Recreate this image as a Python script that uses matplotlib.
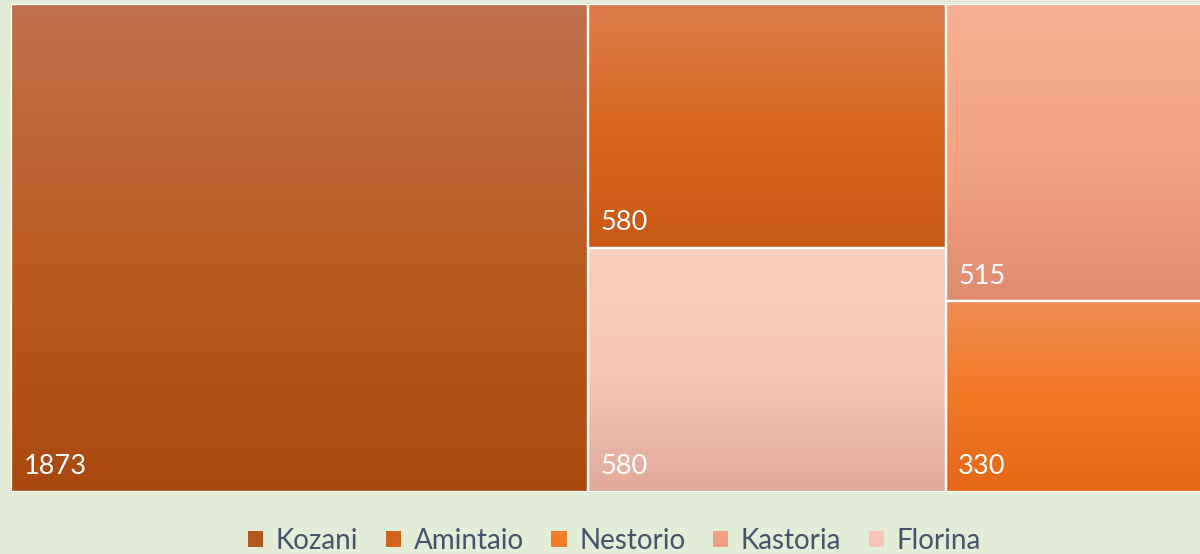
import numpy as np
import matplotlib
matplotlib.use("Agg")
import matplotlib.pyplot as plt
from matplotlib.patches import Rectangle

# ---- data ----
categories = ["Kozani", "Amintaio", "Nestorio", "Kastoria", "Florina"]
values = [1873, 580, 330, 515, 580]

# ---- style ----
grad_colors = {
    "Kozani":   [(193, 113, 77), (187, 92, 36), (170, 74, 16)],
    "Amintaio": [(222, 126, 76), (216, 102, 30), (200, 89, 22)],
    "Nestorio": [(240, 140, 82), (243, 120, 36), (228, 104, 22)],
    "Kastoria": [(246, 176, 146), (244, 164, 130), (224, 140, 112)],
    "Florina":  [(249, 206, 190), (247, 199, 182), (225, 170, 155)],
}
legend_colors = {
    "Kozani": "#b3561f", "Amintaio": "#d2641f", "Nestorio": "#f47b27",
    "Kastoria": "#f0a080", "Florina": "#f7c6b6",
}
bg = "#e2ecd6"

W, H = 1195.0, 488.0


def worst(row, w):
    s = sum(row)
    rmax, rmin = max(row), min(row)
    return max(w * w * rmax / (s * s), s * s / (w * w * rmin))


def layout_row(row, x, y, dx, dy):
    s = sum(row)
    rects = []
    if dx >= dy:
        width = s / dy
        cy = y + dy
        for a in row:
            h = a / width
            rects.append((x, cy - h, width, h))
            cy -= h
        return rects, (x + width, y, dx - width, dy)
    else:
        height = s / dx
        cx = x
        for a in row:
            wd = a / height
            rects.append((cx, y + dy - height, wd, height))
            cx += wd
        return rects, (x, y, dx, dy - height)


def squarify(areas, x, y, dx, dy):
    rects = []
    areas = list(areas)
    while areas:
        w = min(dx, dy)
        row = [areas.pop(0)]
        while areas and worst(row + [areas[0]], w) <= worst(row, w):
            row.append(areas.pop(0))
        r, (x, y, dx, dy) = layout_row(row, x, y, dx, dy)
        rects.extend(r)
    return rects


order = sorted(range(len(values)), key=lambda i: -values[i])
total = sum(values)
areas = [values[i] * W * H / total for i in order]
rects = squarify(areas, 0, 0, W, H)

fig = plt.figure(figsize=(12, 5.54), dpi=100)
fig.patch.set_facecolor(bg)
ax = fig.add_axes([11 / 1200, (554 - 492) / 554, W / 1200, H / 554])
ax.set_xlim(0, W)
ax.set_ylim(0, H)
ax.axis("off")

for idx, (rx, ry, rw, rh) in zip(order, rects):
    name = categories[idx]
    c = np.array(grad_colors[name], dtype=float) / 255.0
    n = 100
    t = np.linspace(0, 1, n)
    img = np.zeros((n, 1, 3))
    for k in range(3):
        img[:, 0, k] = np.interp(t, [0, 0.5, 1], c[:, k])
    ax.imshow(img, extent=(rx, rx + rw, ry, ry + rh), origin="upper",
              aspect="auto", interpolation="bilinear", zorder=1)
    ax.add_patch(Rectangle((rx, ry), rw, rh, fill=False, edgecolor="white",
                           lw=1.6, zorder=3))
    ax.annotate(str(values[idx]), (rx, ry), xytext=(9, 9),
                textcoords="offset points", color="white", fontsize=19.5,
                family="Lato", ha="left", va="bottom", zorder=4)

ax.set_xlim(0, W)
ax.set_ylim(0, H)

handles = [Rectangle((0, 0), 1, 1, facecolor=legend_colors[n], edgecolor="none")
           for n in categories]
leg = fig.legend(handles, categories, loc="center", bbox_to_anchor=(0.512, 0.024),
                 ncol=5, frameon=False, handlelength=0.55,
                 handleheight=0.55, handletextpad=0.45, columnspacing=1.0,
                 prop={"family": "Lato", "size": 20})
for t in leg.get_texts():
    t.set_color("#44546a")

fig.savefig("out.png", dpi=100, facecolor=bg)
